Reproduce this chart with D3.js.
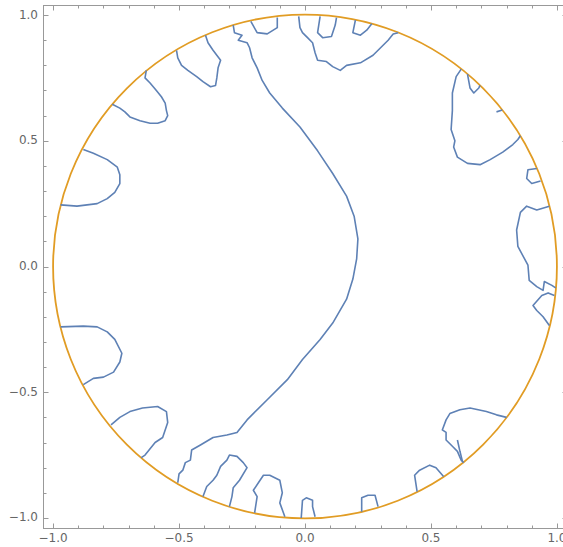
<!DOCTYPE html>
<html>
<head>
<meta charset="utf-8">
<script src="https://cdn.jsdelivr.net/npm/d3@7"></script>
<style>
  body { margin: 0; background: #fff; }
  svg { display: block; }
  .tick-label { font-family: "DejaVu Sans", sans-serif; font-size: 12px; fill: #666; }
</style>
</head>
<body>
<svg id="chart" width="563" height="547"></svg>
<script>
// frame ticks
const majorTicks = [-1.0, -0.5, 0.0, 0.5, 1.0]
const minorTicks = [-0.9, -0.8, -0.7, -0.6, -0.4, -0.3, -0.2, -0.1, 0.1, 0.2, 0.3, 0.4, 0.6, 0.7, 0.8, 0.9]

// unit circle (boundary)
const circleCenter = [0, 0]
const circleRadius = 1

// blue contour pieces, [x, y]
const mainCurve = [[-0.285,0.96],[-0.28,0.93],[-0.25,0.92],[-0.265,0.90],[-0.23,0.89],[-0.22,0.87],[-0.21,0.83],[-0.19,0.79],[-0.17,0.74],[-0.14,0.69],[-0.09,0.63],[-0.02,0.555],[0.05,0.46],[0.11,0.37],[0.165,0.28],[0.195,0.20],[0.21,0.11],[0.205,0.03],[0.19,-0.05],[0.165,-0.13],[0.11,-0.225],[0.06,-0.29],[-0.01,-0.37],[-0.07,-0.45],[-0.15,-0.53],[-0.23,-0.61],[-0.27,-0.66],[-0.31,-0.67],[-0.365,-0.68],[-0.415,-0.71],[-0.45,-0.73],[-0.455,-0.77],[-0.475,-0.78],[-0.485,-0.81],[-0.50,-0.825],[-0.505,-0.86]]
const blobA = [[-0.63,0.78],[-0.635,0.75],[-0.615,0.73],[-0.59,0.70],[-0.57,0.675],[-0.555,0.65],[-0.55,0.62],[-0.545,0.60],[-0.555,0.58],[-0.585,0.57],[-0.615,0.57],[-0.655,0.58],[-0.695,0.595],[-0.715,0.615],[-0.735,0.63],[-0.765,0.645]]
const blobB = [[-0.51,0.86],[-0.505,0.83],[-0.49,0.80],[-0.465,0.78],[-0.43,0.755],[-0.405,0.735],[-0.375,0.715],[-0.355,0.72],[-0.35,0.75],[-0.345,0.79],[-0.335,0.82],[-0.365,0.86],[-0.385,0.89],[-0.395,0.92]]
const blobC = [[-0.215,0.975],[-0.19,0.93],[-0.15,0.925],[-0.11,0.95],[-0.11,0.99]]
const blobD = [[-0.025,0.995],[-0.02,0.95],[-0.01,0.93],[0.01,0.91],[0.03,0.89],[0.04,0.85],[0.05,0.82],[0.085,0.815],[0.11,0.795],[0.14,0.78],[0.165,0.80],[0.22,0.81],[0.27,0.84],[0.30,0.87],[0.33,0.90],[0.35,0.925],[0.37,0.93]]
const loopD2 = [[0.06,0.995],[0.05,0.93],[0.07,0.91],[0.105,0.915],[0.12,0.96],[0.125,0.99]]
const loopD3 = [[0.20,0.98],[0.19,0.93],[0.22,0.92],[0.245,0.94],[0.265,0.965]]
const blobE = [[0.62,0.785],[0.60,0.755],[0.585,0.69],[0.585,0.62],[0.58,0.545],[0.595,0.50],[0.59,0.475],[0.605,0.435],[0.645,0.41],[0.695,0.405],[0.735,0.425],[0.785,0.455],[0.825,0.485],[0.845,0.505],[0.855,0.52]]
const loopE2 = [[0.645,0.765],[0.655,0.71],[0.67,0.69],[0.69,0.71],[0.695,0.72]]
const tickE3 = [[0.783,0.622],[0.76,0.615]]
const loopE4 = [[0.92,0.39],[0.885,0.385],[0.88,0.35],[0.90,0.33],[0.935,0.34]]
const blobF = [[0.97,0.24],[0.92,0.225],[0.88,0.24],[0.855,0.215],[0.84,0.145],[0.845,0.08],[0.885,0.005],[0.89,-0.055],[0.92,-0.08],[0.945,-0.095],[0.95,-0.06],[0.98,-0.075],[0.995,-0.085]]
const blobG = [[0.99,-0.115],[0.965,-0.105],[0.94,-0.115],[0.905,-0.155],[0.92,-0.175],[0.945,-0.20],[0.97,-0.235]]
const blobH = [[-0.88,0.465],[-0.84,0.45],[-0.785,0.425],[-0.745,0.395],[-0.735,0.365],[-0.735,0.33],[-0.755,0.295],[-0.785,0.27],[-0.825,0.25],[-0.905,0.24],[-0.97,0.245]]
const blobI = [[-0.97,-0.24],[-0.88,-0.237],[-0.825,-0.24],[-0.785,-0.26],[-0.755,-0.29],[-0.727,-0.345],[-0.735,-0.38],[-0.76,-0.42],[-0.80,-0.44],[-0.84,-0.445],[-0.88,-0.47]]
const blobJ = [[-0.77,-0.63],[-0.735,-0.60],[-0.695,-0.577],[-0.645,-0.563],[-0.585,-0.557],[-0.55,-0.577],[-0.545,-0.62],[-0.565,-0.68],[-0.595,-0.70],[-0.635,-0.75],[-0.65,-0.76]]
const blobK = [[-0.405,-0.915],[-0.39,-0.875],[-0.365,-0.85],[-0.35,-0.83],[-0.335,-0.795],[-0.31,-0.77],[-0.30,-0.75],[-0.27,-0.755],[-0.245,-0.78],[-0.23,-0.80],[-0.26,-0.85],[-0.285,-0.88],[-0.29,-0.915],[-0.30,-0.955]]
const blobL = [[-0.20,-0.98],[-0.19,-0.915],[-0.205,-0.89],[-0.185,-0.86],[-0.165,-0.83],[-0.14,-0.83],[-0.10,-0.85],[-0.09,-0.90],[-0.10,-0.94],[-0.08,-0.995]]
const blobM = [[-0.015,-1.0],[-0.01,-0.93],[0.005,-0.92],[0.03,-0.93],[0.03,-0.955],[0.04,-0.995]]
const blobN = [[0.225,-0.975],[0.225,-0.92],[0.25,-0.91],[0.278,-0.91],[0.29,-0.955]]
const blobO = [[0.445,-0.895],[0.435,-0.83],[0.455,-0.81],[0.495,-0.79],[0.52,-0.80],[0.55,-0.835]]
const blobP = [[0.80,-0.60],[0.76,-0.59],[0.72,-0.577],[0.655,-0.563],[0.615,-0.57],[0.575,-0.585],[0.56,-0.61],[0.545,-0.65],[0.56,-0.66],[0.56,-0.69],[0.585,-0.715],[0.605,-0.735],[0.62,-0.77],[0.63,-0.78]]
const spikeP2 = [[0.605,-0.69],[0.615,-0.735],[0.625,-0.775]]

const contours = [mainCurve, blobA, blobB, blobC, blobD, loopD2, loopD3, blobE, loopE2, tickE3, loopE4,
                  blobF, blobG, blobH, blobI, blobJ, blobK, blobL, blobM, blobN, blobO, blobP, spikeP2]

const svg = d3.select('#chart')
const frame = {left: 43, right: 567, top: 5, bottom: 528}

const x = d3.scaleLinear().domain([-1.04, 1.04]).range([frame.left, frame.right])
const y = d3.scaleLinear().domain([-1.04, 1.04]).range([frame.bottom, frame.top])

let fmt = v => (v < 0 ? '\u2212' : '') + Math.abs(v).toFixed(1)

// plot contents
let plot = svg.append('g')

plot.append('circle')
    .attr('cx', x(circleCenter[0]))
    .attr('cy', y(circleCenter[1]))
    .attr('r', x(circleRadius) - x(0))
    .attr('fill', 'none')
    .attr('stroke', '#E19C24')
    .attr('stroke-width', 1.8)

let line = d3.line().x(d => x(d[0])).y(d => y(d[1]))

plot.selectAll('path.contour')
    .data(contours)
    .enter()
    .append('path')
        .attr('class', 'contour')
        .attr('d', line)
        .attr('fill', 'none')
        .attr('stroke', '#5E81B5')
        .attr('stroke-width', 1.6)
        .attr('stroke-linejoin', 'round')

// frame
let axes = svg.append('g').attr('stroke', '#999').attr('stroke-width', 1)

axes.append('rect')
    .attr('x', frame.left + 0.5)
    .attr('y', frame.top + 0.5)
    .attr('width', frame.right - frame.left)
    .attr('height', frame.bottom - frame.top)
    .attr('fill', 'none')

let drawTicks = (values, len) => {
    values.forEach(v => {
        let px = Math.round(x(v)) + 0.5, py = Math.round(y(v)) + 0.5
        axes.append('line').attr('x1', px).attr('x2', px).attr('y1', frame.bottom + 0.5).attr('y2', frame.bottom + 0.5 - len)
        axes.append('line').attr('x1', px).attr('x2', px).attr('y1', frame.top + 0.5).attr('y2', frame.top + 0.5 + len)
        axes.append('line').attr('y1', py).attr('y2', py).attr('x1', frame.left + 0.5).attr('x2', frame.left + 0.5 + len)
        axes.append('line').attr('y1', py).attr('y2', py).attr('x1', frame.right + 0.5).attr('x2', frame.right + 0.5 - len)
    })
}
drawTicks(majorTicks, 5)
drawTicks(minorTicks, 3)

svg.selectAll('text.xl')
    .data(majorTicks)
    .enter()
    .append('text')
        .attr('class', 'tick-label')
        .attr('x', d => x(d))
        .attr('y', frame.bottom + 10)
        .attr('text-anchor', 'middle')
        .attr('dominant-baseline', 'middle')
        .text(fmt)

svg.selectAll('text.yl')
    .data(majorTicks)
    .enter()
    .append('text')
        .attr('class', 'tick-label')
        .attr('x', frame.left - 5)
        .attr('y', d => y(d))
        .attr('text-anchor', 'end')
        .attr('dominant-baseline', 'middle')
        .text(fmt)
</script>
</body>
</html>
